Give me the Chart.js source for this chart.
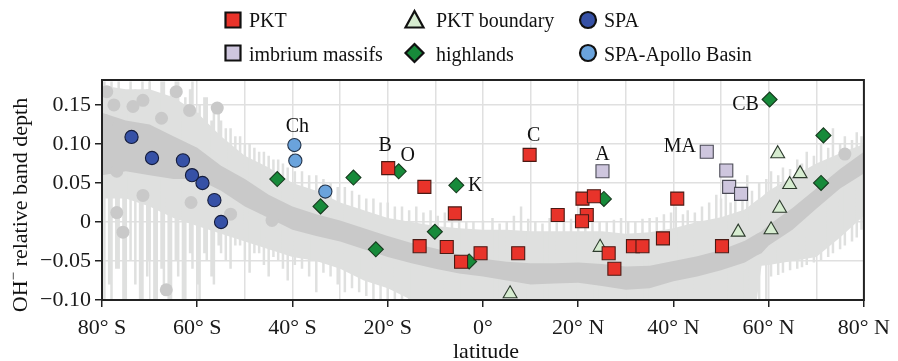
<!DOCTYPE html>
<html>
<head>
<meta charset="utf-8">
<script src="https://cdn.jsdelivr.net/npm/chart.js@4.4.1/dist/chart.umd.min.js"></script>
<style>
  html, body { margin: 0; padding: 0; background: #fff; }
  #wrap { width: 898px; height: 361px; }
</style>
</head>
<body>
<div id="wrap"><canvas id="chart" width="898" height="361"></canvas></div>
<script>
const SERIF = '"Liberation Serif", "Times New Roman", serif'

// axes
const xTicks = [-80, -70, -60, -50, -40, -30, -20, -10, 0, 10, 20, 30, 40, 50, 60, 70, 80]
const yTicks = [-0.10, -0.05, 0, 0.05, 0.10, 0.15]
const yTickLabels = ['\u22120.10', '\u22120.05', '0', '0.05', '0.10', '0.15']

// background: global latitude profile (light envelope + dark running band)
const bgLat   = [-80, -75, -70, -65, -60, -55, -50, -45, -40, -35, -30, -25, -20, -15, -10, -5, 0, 5, 10, 15, 20, 25, 30, 35, 40, 45, 50, 55, 57.5, 58.5, 60, 65, 70, 75, 80]
const lightHi = [0.175, 0.17, 0.17, 0.16, 0.14, 0.11, 0.085, 0.07, 0.05, 0.04, 0.025, 0.015, 0.005, 0.0, -0.005, -0.008, -0.01, -0.01, -0.012, -0.012, -0.012, -0.012, -0.015, -0.013, -0.008, 0.0, 0.006, 0.016, 0.028, 0.032, 0.04, 0.058, 0.075, 0.088, 0.1]
const lightLo = [0.03, 0.03, 0.02, 0.005, -0.005, -0.015, -0.025, -0.035, -0.045, -0.05, -0.06, -0.075, -0.085, -0.1, -0.1, -0.1, -0.1, -0.1, -0.1, -0.1, -0.1, -0.1, -0.1, -0.1, -0.1, -0.1, -0.1, -0.1, -0.1, -0.056, -0.055, -0.05, -0.045, -0.02, 0.008]
const darkHi  = [0.14, 0.13, 0.125, 0.11, 0.095, 0.072, 0.055, 0.035, 0.02, 0.01, 0.002, -0.008, -0.018, -0.027, -0.034, -0.042, -0.047, -0.051, -0.053, -0.053, -0.052, -0.054, -0.057, -0.056, -0.05, -0.044, -0.036, -0.024, -0.015, -0.012, -0.004, 0.018, 0.043, 0.068, 0.09]
const darkLo  = [0.06, 0.065, 0.06, 0.055, 0.055, 0.04, 0.02, 0.005, -0.01, -0.018, -0.025, -0.035, -0.045, -0.053, -0.06, -0.066, -0.07, -0.075, -0.08, -0.079, -0.078, -0.082, -0.087, -0.085, -0.076, -0.07, -0.062, -0.052, -0.043, -0.04, -0.03, -0.01, 0.017, 0.043, 0.062]

// noisy error-bar spikes in the background
const spikeLat = [-79.5, -78.5, -78, -77, -76.5, -75.5, -75, -74, -73, -72, -71.5, -70.5, -70, -69, -68.5, -67.5, -67, -66, -65.5, -64.5, -64, -63, -62.5, -61.5, -61, -60, -59.5, -58.5, -58, -57, -56.5, -55.5, -55, -54, -53, -52, -51, -50, -49, -48, -47, -46, -45, -44, -43, -42, -41, -39.5, -38, -36.5, -35, -33.5, -32, -30.5, -29, -27.5, -26, -24.5, -23, -21.5, -20, -18.5, -17, -15.5, -14, -12.5, -11, -9.5, -8, -6.5, -5, -3.5, -2, 0, 2, 3.5, 5, 6.5, 8, 9.5, 11, 12.5, 14, 15.5, 17, 18.5, 20, 21.5, 23, 24.5, 26, 27.5, 29, 30.5, 32, 33.5, 35, 36.5, 38, 39.5, 40.5, 42, 43, 44.5, 46, 47.5, 49, 50, 51, 52, 53, 54.5, 55.5, 56.5, 58, 59.5, 60.5, 62, 63, 64.5, 66, 67, 68, 69.5, 71, 72.5, 73.5, 75, 76, 77.5, 78.5, 79.5]
const spikeLo  = [-0.1, -0.08, -0.1, -0.06, -0.06, -0.1, -0.1, -0.05, -0.08, -0.1, -0.1, -0.07, -0.05, -0.1, -0.1, -0.06, -0.09, -0.1, -0.1, -0.05, -0.07, -0.1, -0.1, -0.04, -0.06, -0.08, -0.1, -0.04, -0.05, -0.07, -0.08, -0.03, -0.04, -0.05, -0.06, -0.03, -0.03, -0.05, -0.065, -0.04, -0.04, -0.055, -0.07, -0.045, -0.05, -0.06, -0.075, -0.055, -0.06, -0.07, -0.09, -0.065, -0.07, -0.08, -0.09, -0.085, -0.09, -0.095, -0.1, -0.1, -0.1, -0.1, -0.1, -0.1, -0.1, -0.1, -0.1, -0.1, -0.1, -0.1, -0.1, -0.1, -0.1, -0.1, -0.1, -0.1, -0.1, -0.1, -0.1, -0.1, -0.1, -0.1, -0.1, -0.1, -0.1, -0.1, -0.1, -0.1, -0.1, -0.1, -0.1, -0.1, -0.1, -0.1, -0.1, -0.1, -0.1, -0.1, -0.1, -0.1, -0.1, -0.1, -0.1, -0.1, -0.1, -0.1, -0.1, -0.1, -0.1, -0.1, -0.1, -0.1, -0.1, -0.1, -0.1, -0.1, -0.07, -0.068, -0.065, -0.062, -0.06, -0.058, -0.055, -0.052, -0.05, -0.045, -0.04, -0.035, -0.03, -0.025, -0.02, -0.01]
const spikeHi  = [0.18, 0.17, 0.18, 0.16, 0.18, 0.17, 0.15, 0.18, 0.17, 0.16, 0.18, 0.17, 0.18, 0.15, 0.16, 0.18, 0.18, 0.16, 0.17, 0.18, 0.18, 0.15, 0.16, 0.17, 0.18, 0.14, 0.15, 0.16, 0.16, 0.13, 0.14, 0.14, 0.13, 0.12, 0.12, 0.11, 0.11, 0.1, 0.1, 0.095, 0.09, 0.09, 0.085, 0.08, 0.08, 0.075, 0.07, 0.065, 0.065, 0.06, 0.06, 0.055, 0.05, 0.045, 0.045, 0.04, 0.035, 0.03, 0.03, 0.025, 0.025, 0.02, 0.02, 0.015, 0.02, 0.012, 0.015, 0.008, 0.012, 0.005, 0.01, 0.0, 0.0, 0.002, 0.005, -0.002, 0.0, 0.008, 0.02, 0.004, 0.0, -0.002, 0.005, 0.0, 0.0, 0.004, 0.005, 0.0, 0.002, 0.0, 0.0, 0.003, 0.005, 0.0, 0.0, 0.004, 0.005, 0.006, 0.01, 0.012, 0.02, 0.01, 0.015, 0.012, 0.02, 0.025, 0.035, 0.03, 0.04, 0.025, 0.03, 0.045, 0.06, 0.04, 0.05, 0.055, 0.065, 0.06, 0.07, 0.068, 0.08, 0.075, 0.09, 0.085, 0.1, 0.095, 0.12, 0.1, 0.11, 0.105, 0.115, 0.11]

// scattered dark-grey background points
const dotLat = [-79, -79.4, -79, -77.5, -76.9, -76.9, -75.6, -73.5, -71.4, -71.4, -67.5, -66.5, -64.4, -61.6, -61.3, -55.8, -53, -44.3, 76]
const dotVal = [0.167, 0.13, 0.127, 0.15, 0.065, 0.012, -0.013, 0.148, 0.156, 0.034, 0.133, -0.087, 0.167, 0.143, 0.025, 0.146, 0.01, 0.002, 0.087]

// sites
const pktLat = [-19.9, -12.3, -5.9, -13.3, -7.6, -4.6, -0.5, 7.4, 9.8, 15.7, 20.9, 23.3, 21.8, 20.8, 26.4, 27.6, 31.5, 33.5, 37.8, 40.8, 50.2]
const pktVal = [0.069, 0.045, 0.011, -0.031, -0.032, -0.051, -0.040, -0.040, 0.086, 0.009, 0.030, 0.033, 0.009, 0.001, -0.040, -0.060, -0.031, -0.031, -0.021, 0.030, -0.031]
const imbLat = [25.1, 47.0, 51.1, 51.7, 54.2]
const imbVal = [0.065, 0.090, 0.066, 0.045, 0.036]
const bndLat = [24.6, 5.7, 53.6, 61.9, 64.4, 66.6, 62.3, 60.5]
const bndVal = [-0.0325, -0.092, -0.013, 0.0875, 0.048, 0.062, 0.0176, -0.010]
const hlLat = [-43.2, -34.1, -27.2, -22.5, -17.7, -10.1, -5.6, -2.9, 25.4, 60.2, 71.5, 71.0]
const hlVal = [0.055, 0.020, 0.057, -0.035, 0.065, -0.0125, 0.047, -0.0506, 0.0295, 0.157, 0.111, 0.050]
const spaLat = [-73.8, -69.5, -63.0, -61.1, -58.9, -56.4, -55.0]
const spaVal = [0.109, 0.082, 0.079, 0.060, 0.050, 0.028, 0.0]
const apoLat = [-39.6, -39.4, -33.1]
const apoVal = [0.0986, 0.0786, 0.039]

const LIGHT = '#dfe0df'
const DARK = '#c9c9c9'

const pts = (xs, ys) => xs.map((x, i) => ({x: x, y: ys[i]}))

const spikeData = []
spikeLat.forEach((lat, i) => {
  spikeData.push({x: lat, y: spikeLo[i]}, {x: lat, y: spikeHi[i]}, {x: lat, y: null})
})

function latLabel(v) {
  if (v % 20 !== 0) return ''
  if (v < 0) return `${-v}\u00b0 S`
  if (v > 0) return `${v}\u00b0 N`
  return '0\u00b0'
}

function band(data, extra) {
  return Object.assign({
    type: 'line', data: data, showLine: true, pointRadius: 0, borderWidth: 0,
    borderColor: 'rgba(0,0,0,0)', tension: 0, spanGaps: false
  }, extra)
}

function sites(label, xs, ys, style, radius, fill, border, order) {
  return {
    type: 'scatter', label: label, data: pts(xs, ys), pointStyle: style, pointRadius: radius,
    backgroundColor: fill, borderColor: border, borderWidth: 1.1, order: order
  }
}

// text labels next to named sites
const notes = [
  {text: 'Ch', x: apoLat[0], y: apoVal[0], dx: 3, dy: -18},
  {text: 'B', x: pktLat[0], y: pktVal[0], dx: -3, dy: -22},
  {text: 'O', x: hlLat[4], y: hlVal[4], dx: 9, dy: -16},
  {text: 'C', x: pktLat[8], y: pktVal[8], dx: 4, dy: -19},
  {text: 'A', x: imbLat[0], y: imbVal[0], dx: 0, dy: -17},
  {text: 'K', x: hlLat[6], y: hlVal[6], dx: 19, dy: 0},
  {text: 'MA', x: imbLat[1], y: imbVal[1], dx: -27, dy: -5},
  {text: 'CB', x: hlLat[9], y: hlVal[9], dx: -24, dy: 5}
]

const legendItems = [
  {text: 'PKT', shape: 'rect', fill: '#e8332a', cx: 233, cy: 20, tx: 249, ty: 27},
  {text: 'imbrium massifs', shape: 'rect', fill: '#cec6de', cx: 233, cy: 53, tx: 249, ty: 61},
  {text: 'PKT boundary', shape: 'tri', fill: '#d6ecd0', cx: 414.5, cy: 20, tx: 436, ty: 27},
  {text: 'highlands', shape: 'diamond', fill: '#178a3a', cx: 414.5, cy: 53, tx: 436, ty: 61},
  {text: 'SPA', shape: 'circle', fill: '#3651a6', cx: 588, cy: 20, tx: 604, ty: 27},
  {text: 'SPA-Apollo Basin', shape: 'circle', fill: '#6aa3dc', cx: 588, cy: 53, tx: 604, ty: 61}
]

const decor = {
  id: 'decor',
  afterDatasetsDraw(chart) {
    const {ctx, chartArea: a, scales} = chart
    ctx.save()
    ctx.strokeStyle = '#222'
    ctx.lineWidth = 2
    ctx.strokeRect(a.left, a.top, a.right - a.left, a.bottom - a.top)
    ctx.fillStyle = '#111'
    ctx.font = `20px ${SERIF}`
    ctx.textAlign = 'center'
    ctx.textBaseline = 'middle'
    notes.forEach(n => {
      ctx.fillText(n.text, scales.x.getPixelForValue(n.x) + n.dx, scales.y.getPixelForValue(n.y) + n.dy)
    })
    ctx.restore()
  },
  afterDraw(chart) {
    const ctx = chart.ctx
    ctx.save()
    // legend
    legendItems.forEach(it => {
      ctx.beginPath()
      if (it.shape === 'rect') {
        ctx.rect(it.cx - 7.5, it.cy - 7.5, 15, 15)
      } else if (it.shape === 'circle') {
        ctx.arc(it.cx, it.cy, 8, 0, Math.PI * 2)
      } else if (it.shape === 'diamond') {
        ctx.moveTo(it.cx, it.cy - 9)
        ctx.lineTo(it.cx + 9, it.cy)
        ctx.lineTo(it.cx, it.cy + 9)
        ctx.lineTo(it.cx - 9, it.cy)
        ctx.closePath()
      } else {
        ctx.moveTo(it.cx, it.cy - 9)
        ctx.lineTo(it.cx + 9, it.cy + 7.5)
        ctx.lineTo(it.cx - 9, it.cy + 7.5)
        ctx.closePath()
      }
      ctx.fillStyle = it.fill
      ctx.fill()
      ctx.lineWidth = 2.2
      ctx.strokeStyle = '#111'
      ctx.stroke()
      ctx.fillStyle = '#111'
      ctx.font = `20px ${SERIF}`
      ctx.textAlign = 'left'
      ctx.textBaseline = 'alphabetic'
      ctx.fillText(it.text, it.tx, it.ty)
    })
    // axis titles
    ctx.font = `22px ${SERIF}`
    ctx.textAlign = 'center'
    ctx.textBaseline = 'middle'
    ctx.fillText('latitude', 486, 352)

    ctx.translate(21, 205)
    ctx.rotate(-Math.PI / 2)
    ctx.textAlign = 'left'
    const big = `22px ${SERIF}`, small = `15px ${SERIF}`
    ctx.font = big
    const w1 = ctx.measureText('OH').width
    const w3 = ctx.measureText(' relative band depth').width
    ctx.font = small
    const w2 = ctx.measureText('\u2212').width
    let x = -(w1 + w2 + w3) / 2
    ctx.font = big
    ctx.fillText('OH', x, 0)
    x += w1
    ctx.font = small
    ctx.fillText('\u2212', x, -7)
    x += w2
    ctx.font = big
    ctx.fillText(' relative band depth', x, 0)
    ctx.restore()
  }
}

new Chart(document.getElementById('chart'), {
  type: 'scatter',
  data: {
    datasets: [
      band(pts(bgLat, lightLo), {order: 20}),
      band(pts(bgLat, lightHi), {order: 20, fill: 0, backgroundColor: LIGHT}),
      band(spikeData, {order: 19, borderWidth: 2.5, borderColor: LIGHT}),
      band(pts(bgLat, darkLo), {order: 18}),
      band(pts(bgLat, darkHi), {order: 18, fill: 3, backgroundColor: DARK}),
      {type: 'scatter', data: pts(dotLat, dotVal), pointRadius: 6.5, backgroundColor: DARK, borderWidth: 0, order: 17},
      sites('highlands', hlLat, hlVal, 'rectRot', 7.5, '#178a3a', '#163a1e', 6),
      sites('PKT boundary', bndLat, bndVal, 'triangle', 8, '#d6ecd0', '#2c3a2c', 5),
      sites('PKT', pktLat, pktVal, 'rect', 9.2, '#e8332a', '#4a1a14', 4),
      sites('imbrium massifs', imbLat, imbVal, 'rect', 9.2, '#cec6de', '#4a4a55', 3),
      sites('SPA', spaLat, spaVal, 'circle', 6.6, '#3651a6', '#141c3c', 2),
      sites('SPA-Apollo Basin', apoLat, apoVal, 'circle', 6.6, '#6aa3dc', '#24344a', 1)
    ]
  },
  options: {
    responsive: false,
    animation: false,
    devicePixelRatio: 1,
    events: [],
    layout: {padding: {top: 80, right: 31, bottom: 0, left: 0}},
    plugins: {legend: {display: false}, tooltip: {enabled: false}},
    scales: {
      x: {
        type: 'linear', min: -80, max: 80,
        afterFit: s => { s.height = 61 },
        afterBuildTicks: s => { s.ticks = xTicks.map(v => ({value: v})) },
        border: {display: false},
        grid: {
          color: '#e0e0e0', lineWidth: 1.5, tickLength: 7, tickWidth: 1.5,
          tickColor: c => (c.tick && c.tick.value % 20 === 0) ? '#222' : 'rgba(0,0,0,0)'
        },
        ticks: {
          autoSkip: false, maxRotation: 0, padding: 8, color: '#1a1a1a',
          font: {family: SERIF, size: 22},
          callback: v => latLabel(v)
        }
      },
      y: {
        type: 'linear', min: -0.10, max: 0.182,
        afterFit: s => { s.width = 102 },
        afterBuildTicks: s => { s.ticks = yTicks.map(v => ({value: v})) },
        border: {display: false},
        grid: {color: '#e0e0e0', lineWidth: 1.5, tickLength: 7, tickWidth: 1.5, tickColor: '#222'},
        ticks: {
          padding: 4, color: '#1a1a1a',
          font: {family: SERIF, size: 22},
          callback: (v, i) => yTickLabels[i]
        }
      }
    }
  },
  plugins: [decor]
})
</script>
</body>
</html>
